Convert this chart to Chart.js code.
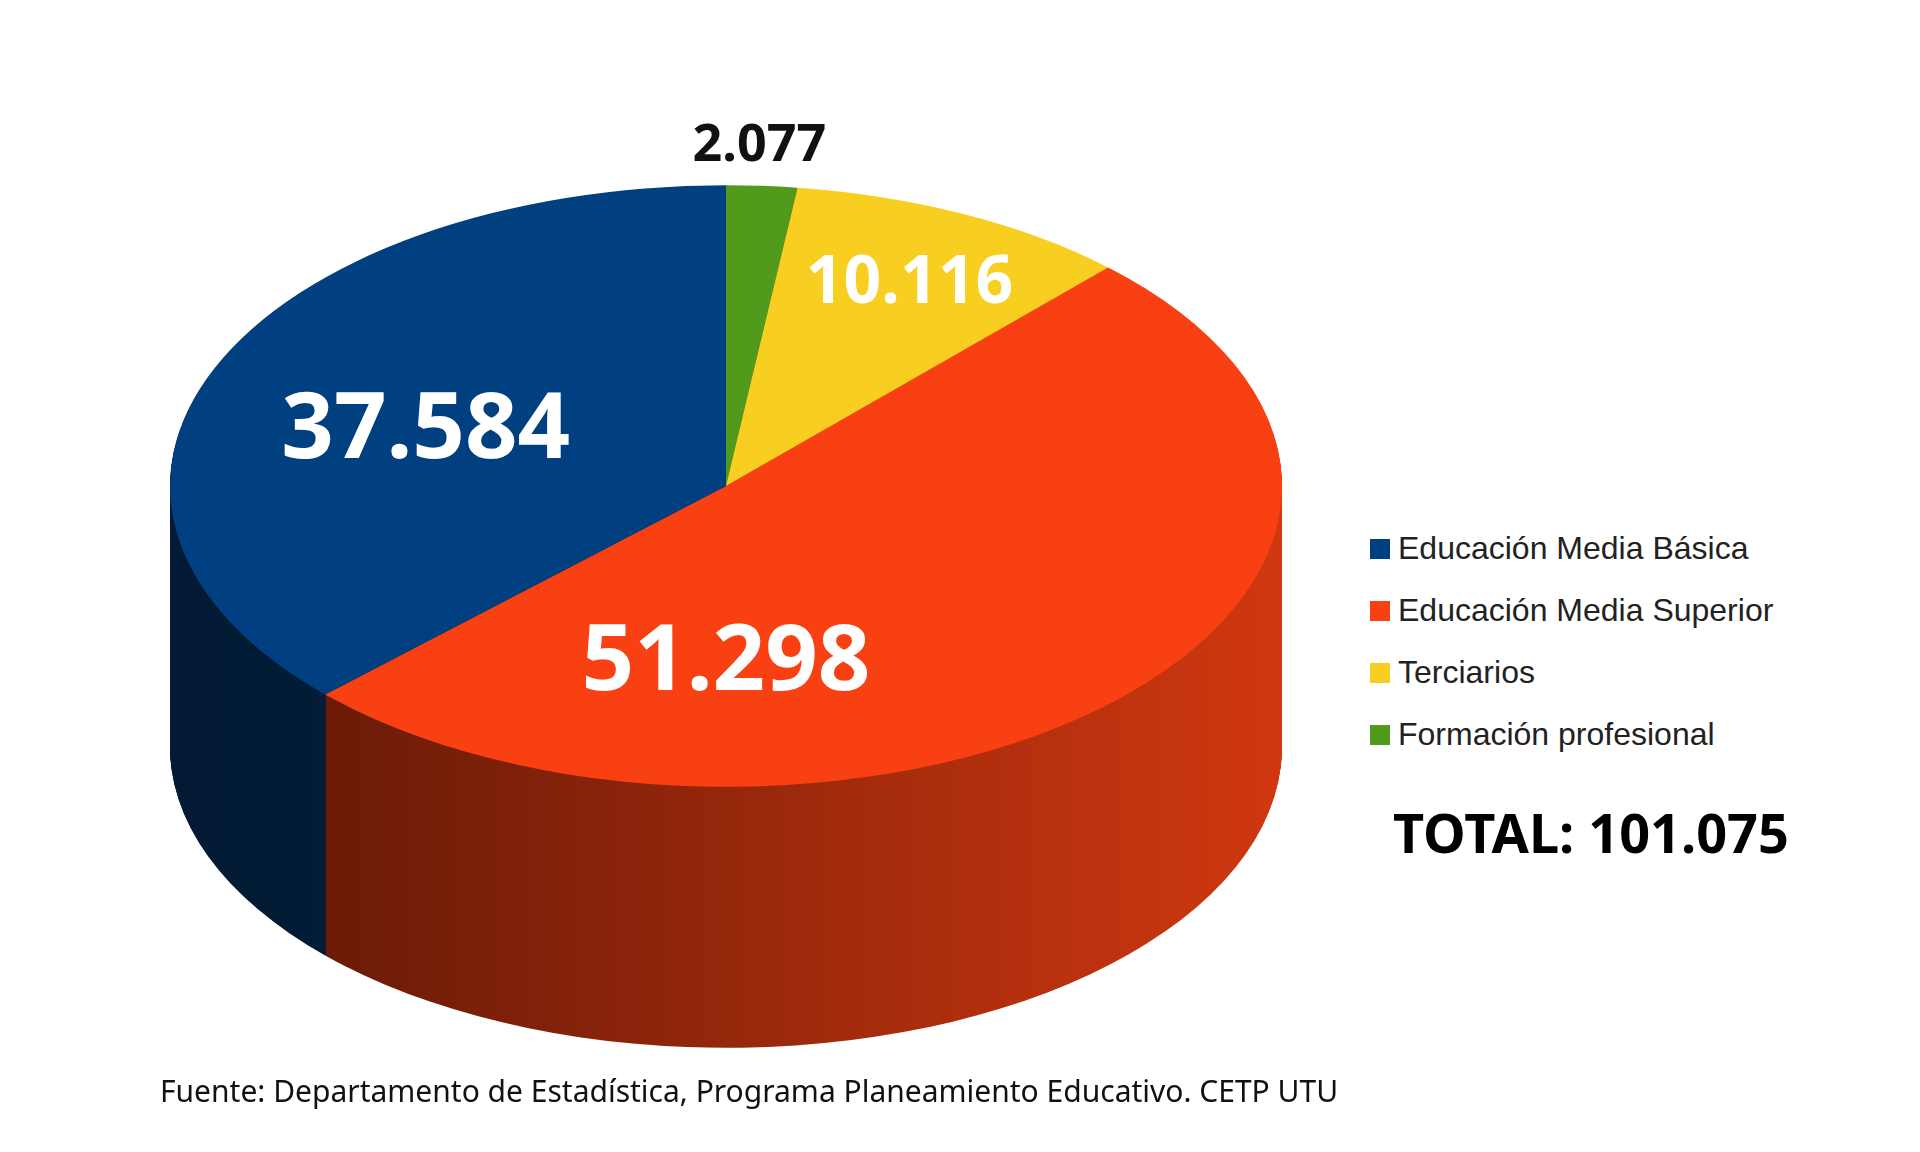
<!DOCTYPE html>
<html><head><meta charset="utf-8">
<script src="https://cdn.jsdelivr.net/npm/chart.js@4/dist/chart.umd.min.js"></script>
<style>
body{margin:0;width:1920px;height:1152px;background:#fff;position:relative;overflow:hidden;font-family:"Liberation Sans",Arial,sans-serif}
#wrap{position:absolute;left:170px;top:-70px;width:1112px;height:1300px}
.leg{position:absolute;left:1370px;font-size:32px;color:#222;display:flex;align-items:center}
.leg i{display:inline-block;width:20px;height:20px;margin-right:8px}
#total{position:absolute;left:1393px;top:795px;font:bold 54px "Noto Sans",sans-serif;color:#000}
#src{position:absolute;left:160px;top:1070px;font:30px "Noto Sans",sans-serif;color:#111}
</style></head><body>
<div id="wrap"><canvas id="c" width="1112" height="1300"></canvas></div>
<div class="leg" style="top:530px"><i style="background:#003f80"></i>Educación Media Básica</div>
<div class="leg" style="top:592px"><i style="background:#f84012"></i>Educación Media Superior</div>
<div class="leg" style="top:654px"><i style="background:#f8cf20"></i>Terciarios</div>
<div class="leg" style="top:716px"><i style="background:#519a1c"></i>Formación profesional</div>
<div id="total">TOTAL: 101.075</div>
<div id="src">Fuente: Departamento de Estadística, Programa Planeamiento Educativo. CETP UTU</div>
<script>
const categories=["Formación profesional","Terciarios","Educación Media Superior","Educación Media Básica"];
const values=[2077,10116,51298,37584];
const valueLabels=["2.077","10.116","51.298","37.584"];
const colors=["#519a1c","#f8cf20","#f84012","#003f80"];
const sideL=["#2c5510","#8a7010","#5a1606","#021a33"];
const sideR=["#3f7a15","#c49a18","#d03810","#03254a"];
const K=0.541, DEPTH=261;
const labelPos=[[0.06,-1.13,52,"#111"],[0.33,-0.67,66,"#fff"],[0,0.59,92,"#fff"],[-0.54,-0.18,92,"#fff"]];
const tilt={id:'tilt',
 beforeDatasetsDraw(ch){
  const ctx=ch.ctx,m=ch.getDatasetMeta(0),a0=m.data[0],cx=a0.x,cy=a0.y,r=a0.outerRadius;
  ctx.save();
  for(let d=DEPTH;d>0;d-=1){
   m.data.forEach((a,i)=>{
    ctx.save();ctx.translate(0,d);ctx.translate(cx,cy);ctx.scale(1,K);
    const g=ctx.createLinearGradient(-r,0,r,0);g.addColorStop(0,sideL[i]);g.addColorStop(1,sideR[i]);
    ctx.fillStyle=g;ctx.beginPath();ctx.moveTo(0,0);ctx.arc(0,0,r,a.startAngle,a.endAngle);ctx.closePath();ctx.fill();
    ctx.restore();
   });
  }
  ctx.restore();
  ctx.save();ctx.translate(cx,cy);ctx.scale(1,K);ctx.translate(-cx,-cy);
 },
 afterDatasetsDraw(ch){
  const ctx=ch.ctx;ctx.restore();
  const m=ch.getDatasetMeta(0),a0=m.data[0],cx=a0.x,cy=a0.y,r=a0.outerRadius;
  ctx.save();ctx.textAlign='center';ctx.textBaseline='middle';
  valueLabels.forEach((t,i)=>{const p=labelPos[i];
   ctx.font='bold '+p[2]+'px "Noto Sans",sans-serif';ctx.fillStyle=p[3];
   ctx.fillText(t,cx+p[0]*r,cy+p[1]*r*K);});
  ctx.restore();
 }};
new Chart(document.getElementById('c'),{type:'pie',
 data:{labels:categories,datasets:[{data:values,backgroundColor:colors,borderWidth:0}]},
 options:{responsive:false,animation:false,devicePixelRatio:1,layout:{padding:{bottom:188}},
  plugins:{legend:{display:false},tooltip:{enabled:false}}},
 plugins:[tilt]});
</script></body></html>
